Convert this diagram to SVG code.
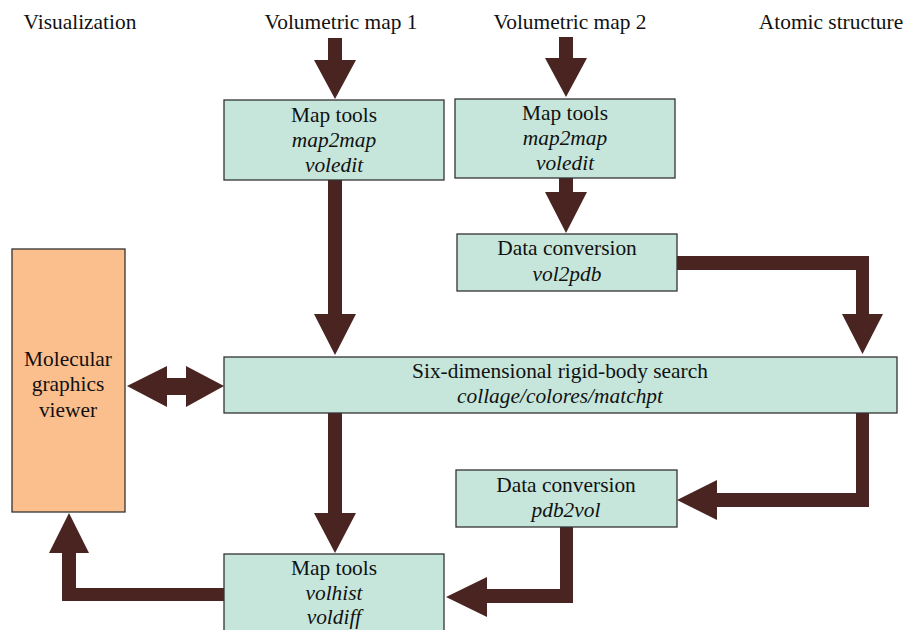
<svg xmlns="http://www.w3.org/2000/svg" width="905" height="630" viewBox="0 0 905 630">
<style>
text{font-family:"Liberation Serif","Times New Roman",serif;font-size:21.4px;fill:#111;text-anchor:middle}
.it{font-style:italic}
.box{fill:#C6E6DB;stroke:#333;stroke-width:1.3}
.mol{fill:#FBBF8E;stroke:#333;stroke-width:1.3}
.arr{fill:#4A2421;stroke:none}
</style>
<rect width="905" height="630" fill="#fff"/>
<g id="labels">
<text x="80" y="29">Visualization</text>
<text x="341" y="29">Volumetric map 1</text>
<text x="570" y="29">Volumetric map 2</text>
<text x="831" y="29">Atomic structure</text>
</g>
<g id="connectors">
<polygon class="arr" points="328,38 342,38 342,60 356,60 335,99 314,60 328,60"/>
<polygon class="arr" points="559,37 573,37 573,58 587,58 566,97 545,58 559,58"/>
<polygon class="arr" points="559,178 573,178 573,192 587,192 566,233 545,192 559,192"/>
<polygon class="arr" points="328,180 342,180 342,314 356,314 335,355 314,314 328,314"/>
<polygon class="arr" points="677,256 869,256 869,314 883,314 862.5,354 842,314 856,314 856,270 677,270"/>
<polygon class="arr" points="856,413 869,413 869,507 717,507 717,520 677,500 717,480 717,493 856,493"/>
<polygon class="arr" points="328,413 342,413 342,513 356,513 335,553 314,513 328,513"/>
<polygon class="arr" points="560,527 573,527 573,603 487,603 487,617 446,597 487,577 487,589 560,589"/>
<polygon class="arr" points="224,588 224,601 62,601 62,553 49,553 69,513 89,553 76,553 76,588"/>
<polygon class="arr" points="127,386 167,366 167,378 186,378 186,366 224,386 186,407 186,395 167,395 167,407"/>
</g>
<g id="maptools1">
<rect class="box" x="224" y="100" width="220" height="80"/>
<text x="334" y="122">Map tools</text>
<text class="it" x="334" y="147">map2map</text>
<text class="it" x="334" y="172">voledit</text>
</g>
<g id="maptools2">
<rect class="box" x="455" y="99" width="220" height="79"/>
<text x="565" y="120">Map tools</text>
<text class="it" x="565" y="145">map2map</text>
<text class="it" x="565" y="170">voledit</text>
</g>
<g id="dataconv1">
<rect class="box" x="457" y="234" width="220" height="57"/>
<text x="567" y="255">Data conversion</text>
<text class="it" x="567" y="281">vol2pdb</text>
</g>
<g id="search">
<rect class="box" x="224" y="357" width="673" height="56"/>
<text x="560" y="378">Six-dimensional rigid-body search</text>
<text class="it" x="560" y="403">collage/colores/matchpt</text>
</g>
<g id="dataconv2">
<rect class="box" x="456" y="470" width="221" height="57"/>
<text x="566" y="492">Data conversion</text>
<text class="it" x="566" y="517">pdb2vol</text>
</g>
<g id="maptools3">
<rect class="box" x="224" y="554" width="220" height="84"/>
<text x="334" y="575">Map tools</text>
<text class="it" x="334" y="600">volhist</text>
<text class="it" x="334" y="624">voldiff</text>
</g>
<g id="viewer">
<rect class="mol" x="12" y="249" width="113" height="263"/>
<text x="68" y="366">Molecular</text>
<text x="68" y="391">graphics</text>
<text x="68" y="417">viewer</text>
</g>
</svg>
